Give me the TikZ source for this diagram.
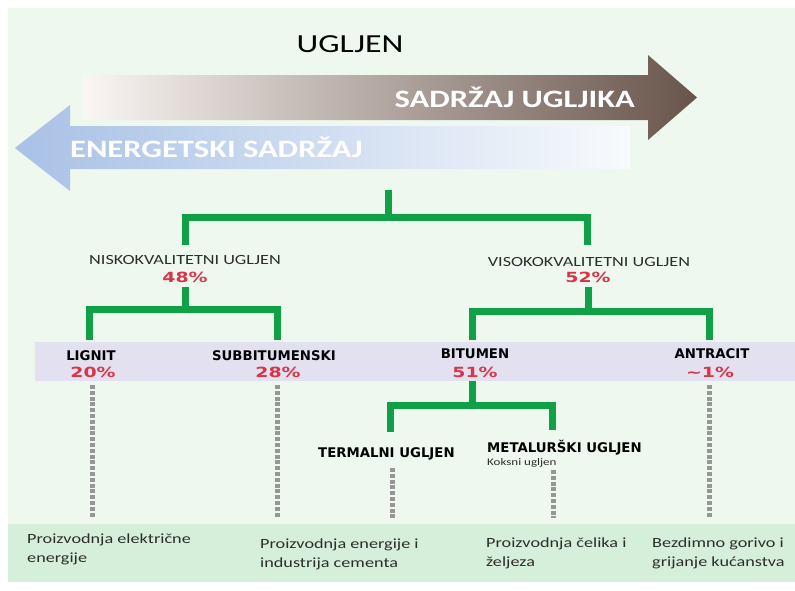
\documentclass[tikz,border=0pt]{standalone}
\usepackage{fontspec}
\setmainfont{Carlito}
\newfontfamily\calf{Carlito}[FakeStretch=1.3]
\newfontfamily\dvf{DejaVu Sans}
\newfontfamily\dvpf{DejaVu Sans}[FakeStretch=1.35]
\definecolor{bg}{RGB}{238,248,238}
\definecolor{bandgreen}{RGB}{214,239,218}
\definecolor{band}{RGB}{227,224,240}
\definecolor{treegreen}{RGB}{16,160,72}
\definecolor{pct}{RGB}{218,52,72}
\definecolor{dotgray}{RGB}{150,150,150}
\definecolor{txt}{RGB}{45,45,45}
\definecolor{brownL}{RGB}{250,246,244}
\definecolor{brownM}{RGB}{212,194,188}
\definecolor{brownR}{RGB}{104,84,74}
\definecolor{blueL}{RGB}{168,193,230}
\definecolor{blueM}{RGB}{210,222,241}
\definecolor{blueR}{RGB}{248,250,252}
\tikzset{
  tree/.style={treegreen, line width=7pt},
  dots/.style={dotgray, line width=5pt, dash pattern=on 4pt off 1.8pt},
  lbl/.style={font=\dvf\bfseries\fontsize{13.3}{15}\selectfont, text=black, inner sep=0pt, anchor=base},
  pctlbl/.style={font=\dvpf\bfseries\fontsize{14}{16}\selectfont, text=pct, inner sep=0pt, anchor=base},
  grp/.style={font=\calf\fontsize{14}{16}\selectfont, text=txt, inner sep=0pt, anchor=base},
  usetxt/.style={font=\calf\fontsize{14}{19}\selectfont, text=txt, inner sep=0pt, anchor=base west, align=left},
  arrtxt/.style={font=\calf\bfseries\fontsize{25}{28}\selectfont, text=white, inner sep=0pt}
}
\begin{document}
\begin{tikzpicture}[x=1pt,y=-1pt]
\useasboundingbox (0,0) rectangle (795,590);
% backgrounds
\fill[bg] (8,8) rectangle (795,582);
\fill[bandgreen] (8,524) rectangle (795,582);
\fill[band] (35,342) rectangle (795,381);
% title
\node[font=\calf\fontsize{26}{30}\selectfont, text=black, inner sep=0pt, anchor=base] (title) at (350,52) {UGLJEN};
% arrows
\shade[left color=blueL, middle color=blueM, right color=blueR]
  (630,126) -- (70,126) -- (70,105) -- (15,148) -- (70,191) -- (70,169) -- (630,169) -- cycle;
\shade[left color=brownL, middle color=brownM, right color=brownR]
  (83,75) -- (648,75) -- (648,55) -- (697,97.5) -- (648,140) -- (648,120) -- (83,120) -- cycle;
\node[arrtxt, anchor=base east] (carbon) at (635,107) {SADRŽAJ UGLJIKA};
\node[arrtxt, anchor=base west] (energy) at (70,157) {ENERGETSKI SADRŽAJ};
% group labels
\node[grp] (low) at (185,264) {NISKOKVALITETNI UGLJEN};
\node[pctlbl] (lowpct) at (185,282) {48\%};
\node[grp] (high) at (589,266) {VISOKOKVALITETNI UGLJEN};
\node[pctlbl] (highpct) at (588,282) {52\%};
% coal types
\node[lbl] (lig) at (91,360) {LIGNIT};
\node[pctlbl] (ligpct) at (93,377) {20\%};
\node[lbl] (sub) at (274,360) {SUBBITUMENSKI};
\node[pctlbl] (subpct) at (278,377) {28\%};
\node[lbl] (bit) at (475,358) {BITUMEN};
\node[pctlbl] (bitpct) at (475,377) {51\%};
\node[lbl] (ant) at (712,358) {ANTRACIT};
\node[pctlbl] (antpct) at (710,377) {\textasciitilde1\%};
\node[lbl, anchor=base west] (term) at (318,457) {TERMALNI UGLJEN};
\node[lbl, anchor=base west] (met) at (487,452) {METALURŠKI UGLJEN};
\node[font=\calf\fontsize{10}{12}\selectfont, text=txt, inner sep=0pt, anchor=base west] (koks) at (487,465) {Koksni ugljen};
% uses (base = baseline of the last line)
\node[usetxt] (use1) at (27,562) {Proizvodnja električne\\energije};
\node[usetxt] (use2) at (260,567) {Proizvodnja energije i\\industrija cementa};
\node[usetxt] (use3) at (486,566) {Proizvodnja čelika i\\željeza};
\node[usetxt] (use4) at (652,566) {Bezdimno gorivo i\\grijanje kućanstva};
% tree coordinates
\coordinate (r0) at (388,190);
\coordinate (r1) at (388,217);
\coordinate (lowtop) at (185,245);
\coordinate (hightop) at (587,245);
\coordinate (l0) at (185,287);
\coordinate (l1) at (185,309);
\coordinate (ligtop) at (89,340);
\coordinate (subtop) at (277,340);
\coordinate (h0) at (588,287);
\coordinate (h1) at (588,311);
\coordinate (bittop) at (472,340);
\coordinate (anttop) at (709,340);
\coordinate (b0) at (472,381);
\coordinate (b1) at (472,405);
\coordinate (termtop) at (390,432);
\coordinate (mettop) at (552,430);
\draw[tree] (r0) -- (r1);
\draw[tree] (lowtop) |- (r1) -| (hightop);
\draw[tree] (l0) -- (l1);
\draw[tree] (ligtop) |- (l1) -| (subtop);
\draw[tree] (h0) -- (h1);
\draw[tree] (bittop) |- (h1) -| (anttop);
\draw[tree] (b0) -- (b1);
\draw[tree] (termtop) |- (b1) -| (mettop);
% dotted links
\coordinate (d1a) at (92,385); \coordinate (d1b) at (92,517);
\coordinate (d2a) at (277,385); \coordinate (d2b) at (277,517);
\coordinate (d3a) at (392,468); \coordinate (d3b) at (392,518);
\coordinate (d4a) at (553,470); \coordinate (d4b) at (553,518);
\coordinate (d5a) at (709,385); \coordinate (d5b) at (709,517);
\draw[dots] (d1a) -- (d1b);
\draw[dots] (d2a) -- (d2b);
\draw[dots] (d3a) -- (d3b);
\draw[dots] (d4a) -- (d4b);
\draw[dots] (d5a) -- (d5b);
\end{tikzpicture}
\end{document}
